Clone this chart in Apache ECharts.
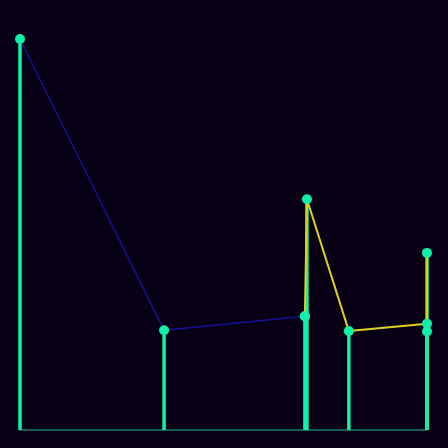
<!DOCTYPE html>
<html>
<head>
<meta charset="utf-8">
<script src="https://cdn.jsdelivr.net/npm/echarts@6/dist/echarts.min.js"></script>
<style>
  html, body { margin: 0; padding: 0; background: #080014; }
  #main { width: 448px; height: 448px; }
</style>
</head>
<body>
<div id="main"></div>
<script>
// x positions (0-100) and values of each point, in drawing order
var xBlue = [0, 35.4, 70.0];
var yBlue = [100, 25.5, 29.1];
var xYellow = [70.0, 70.5, 80.8, 100, 100, 100];
var yYellow = [29.1, 59.0, 25.3, 27.2, 45.3, 25.2];

// stems: one per point
var xStem = [0, 35.4, 70.0, 70.5, 80.8, 100, 100, 100];
var yStem = [100, 25.5, 29.1, 59.0, 25.3, 27.2, 45.3, 25.2];

function pairs(xs, ys) {
    var out = [];
    for (var i = 0; i < xs.length; i++) {
        out.push([xs[i], ys[i]]);
    }
    return out;
}

var myChart = echarts.init(document.getElementById('main'));
myChart.setOption({
    backgroundColor: '#080014',
    animation: false,
    grid: { left: 20, right: 21, top: 39, bottom: 18 },
    xAxis: {
        type: 'value',
        min: 0,
        max: 100,
        axisLine: { show: true, onZero: false, lineStyle: { color: '#1f7a70', width: 1.5 } },
        axisTick: { show: false },
        axisLabel: { show: false },
        splitLine: { show: false }
    },
    yAxis: {
        type: 'value',
        min: 0,
        max: 100,
        axisLine: { show: false },
        axisTick: { show: false },
        axisLabel: { show: false },
        splitLine: { show: false }
    },
    series: [
        {
            type: 'bar',  //竖线
            data: pairs(xStem, yStem),
            barWidth: 3.5,
            barGap: '-100%',
            itemStyle: { color: '#10f0a8' },
            z: 1
        },
        {
            type: 'line',
            data: pairs(xBlue, yBlue),
            symbol: 'circle',
            symbolSize: 10,
            lineStyle: { color: '#180f98', width: 1.5 },
            itemStyle: { color: '#10f0a8' },
            z: 2
        },
        {
            type: 'line',
            data: pairs(xYellow, yYellow),
            symbol: 'circle',
            symbolSize: 10,
            lineStyle: { color: '#e0d020', width: 2 },
            itemStyle: { color: '#10f0a8' },
            z: 3
        }
    ]
});
</script>
</body>
</html>
